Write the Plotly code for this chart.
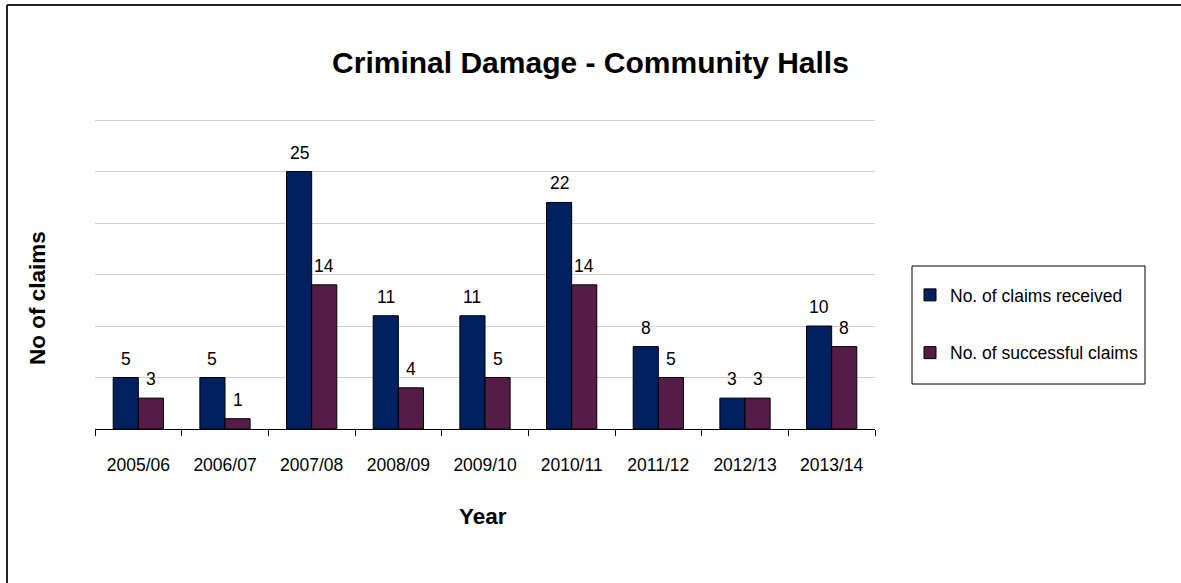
import plotly.graph_objects as go

years = ["2005/06", "2006/07", "2007/08", "2008/09", "2009/10", "2010/11", "2011/12", "2012/13", "2013/14"]
received = [5, 5, 25, 11, 11, 22, 8, 3, 10]
successful = [3, 1, 14, 4, 5, 14, 5, 3, 8]

FONT = "Arial, Liberation Sans, sans-serif"
W, H = 1181, 583
L, R, T, B = 95, 875, 118, 429
YMAX = 30.2
LBL = 17.5

def px_x(px):
    return (px - L) / (R - L)

def px_y(py):
    return (B - py) / (B - T)

fig = go.Figure()
fig.add_trace(go.Bar(
    x=years, y=received, name="No. of claims received",
    marker=dict(color="#002060", line=dict(color="black", width=1)),
    legendgroup="a",
))
fig.add_trace(go.Bar(
    x=years, y=successful, name="No. of successful claims",
    marker=dict(color="#561c48", line=dict(color="black", width=1)),
    legendgroup="b",
))

bar_px = (R - L) / len(years) * (1 - 0.42) / 2
annotations = []
for series, shift in ((received, -bar_px / 2), (successful, bar_px / 2)):
    for yr, v in zip(years, series):
        annotations.append(dict(
            x=yr, y=v, xref="x", yref="y", text=str(v), showarrow=False,
            xshift=shift, yshift=7, yanchor="bottom", xanchor="center",
            font=dict(family=FONT, size=LBL, color="black"),
        ))
annotations.append(dict(
    text="<b>No of claims</b>", xref="paper", yref="paper",
    x=px_x(37), y=px_y(298), xanchor="center", yanchor="middle",
    textangle=-90, showarrow=False,
    font=dict(family=FONT, size=22.5, color="black"),
))
annotations.append(dict(
    text="<b>Year</b>", xref="paper", yref="paper",
    x=px_x(483), y=px_y(516), xanchor="center", yanchor="middle",
    showarrow=False,
    font=dict(family=FONT, size=22.5, color="black"),
))

fig.update_layout(
    width=W, height=H,
    margin=dict(l=L, r=W - R, t=T, b=H - B, autoexpand=False),
    paper_bgcolor="white", plot_bgcolor="white",
    font=dict(family=FONT, size=LBL, color="black"),
    barmode="group", bargap=0.42, bargroupgap=0,
    title=dict(text="<b>Criminal Damage - Community Halls</b>",
               x=0.5, xref="container", xanchor="center",
               y=1 - 62 / H, yref="container", yanchor="middle",
               font=dict(family=FONT, size=30, color="black")),
    xaxis=dict(
        showline=True, linecolor="black", linewidth=1,
        ticks="outside", tickson="boundaries", ticklen=6, tickcolor="black",
        tickfont=dict(family=FONT, size=LBL, color="black"),
        ticklabelstandoff=20,
        showgrid=False,
    ),
    yaxis=dict(
        range=[0, YMAX], tickvals=[5, 10, 15, 20, 25, 30], showticklabels=False, showline=False,
        showgrid=True, gridcolor="#d0d0d0", gridwidth=1, zeroline=False,
    ),
    showlegend=True,
    legend=dict(
        x=px_x(910), y=px_y(277), xanchor="left", yanchor="top",
        bgcolor="rgba(0,0,0,0)", borderwidth=0,
        font=dict(family=FONT, size=LBL, color="black"),
        tracegroupgap=32, traceorder="grouped",
        itemwidth=30,
    ),
    annotations=annotations,
    shapes=[
        dict(type="rect", xref="paper", yref="paper",
             x0=px_x(912), x1=px_x(1145), y0=px_y(384), y1=px_y(266),
             line=dict(color="black", width=1), fillcolor="rgba(0,0,0,0)"),
        dict(type="line", xref="paper", yref="paper",
             x0=px_x(7), x1=px_x(7), y0=px_y(5), y1=px_y(600),
             line=dict(color="#222222", width=2)),
        dict(type="line", xref="paper", yref="paper",
             x0=px_x(7), x1=px_x(1200), y0=px_y(5), y1=px_y(5),
             line=dict(color="#222222", width=2)),
    ],
)

fig.write_html("out.html")
